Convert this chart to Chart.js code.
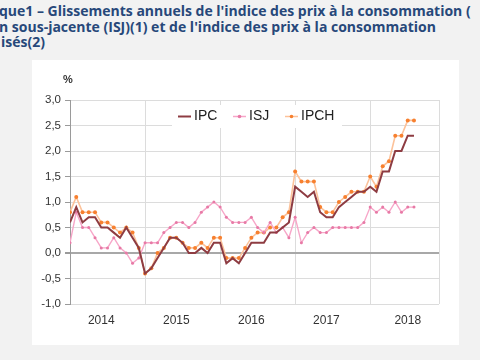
<!DOCTYPE html>
<html><head><meta charset="utf-8">
<script src="https://cdn.jsdelivr.net/npm/chart.js@4/dist/chart.umd.min.js"></script>
<style>
html,body{margin:0;padding:0;width:480px;height:360px;overflow:hidden;background:#f2f2f2;}
#card{position:absolute;left:32px;top:60px;width:427px;height:285px;background:#fff;}
.t{position:absolute;left:0;white-space:nowrap;font-family:"Open Sans",sans-serif;font-weight:700;font-size:14px;color:#27487a;line-height:15px;}
canvas{position:absolute;left:0;top:0;}
</style></head>
<body>
<div id="card"></div>
<div class="t" style="top:3px;left:-1px">que1 – Glissements annuels de l'indice des prix à la consommation (</div>
<div class="t" style="top:19px;left:-1px">n sous-jacente (ISJ)(1) et de l'indice des prix à la consommation</div>
<div class="t" style="top:34px;left:1px">isés(2)</div>
<canvas id="c" width="480" height="360"></canvas>
<script>
const years = ["2014","2015","2016","2017","2018"];
const yearLabelPos = [5,17,29,41,54];
const yearBounds = [12,24,36,48,59];
const seriesNames = ["IPC","ISJ","IPCH"];
const ipc = [0.6,0.9,0.6,0.7,0.7,0.5,0.5,0.4,0.3,0.5,0.3,0.1,
  -0.4,-0.3,-0.1,0.1,0.3,0.3,0.2,0.0,0.0,0.1,0.0,0.2,
  0.2,-0.2,-0.1,-0.2,0.0,0.2,0.2,0.2,0.4,0.4,0.5,0.6,
  1.3,1.2,1.1,1.2,0.8,0.7,0.7,0.9,1.0,1.1,1.2,1.2,
  1.3,1.2,1.6,1.6,2.0,2.0,2.3,2.3];
const isj = [0.2,0.8,0.5,0.5,0.3,0.1,0.1,0.3,0.1,0.0,-0.2,-0.1,
  0.2,0.2,0.2,0.4,0.5,0.6,0.6,0.5,0.6,0.8,0.9,1.0,
  0.9,0.7,0.6,0.6,0.6,0.7,0.5,0.4,0.6,0.4,0.5,0.3,
  0.7,0.2,0.4,0.5,0.4,0.4,0.5,0.5,0.5,0.5,0.5,0.6,
  0.9,0.8,0.9,0.8,1.0,0.8,0.9,0.9];
const ipch = [0.8,1.1,0.8,0.8,0.8,0.6,0.6,0.5,0.4,0.5,0.4,0.1,
  -0.4,-0.3,0.0,0.1,0.3,0.3,0.2,0.1,0.1,0.2,0.1,0.3,
  0.3,-0.1,-0.1,-0.1,0.1,0.3,0.4,0.4,0.5,0.5,0.7,0.8,
  1.6,1.4,1.4,1.4,0.9,0.8,0.8,1.0,1.1,1.2,1.2,1.2,
  1.5,1.3,1.7,1.8,2.3,2.3,2.6,2.6];

const toXY = arr => arr.map((v,i)=>({x:i,y:v}));
const colors = {ipc:'#8e3c42', isjLine:'#f7a6c8', isjPt:'#e77aa6', ipchLine:'#fcc29a', ipchPt:'#f7802f'};

const legendPlugin = {
  id:'customLegend',
  beforeDatasetsDraw(chart){
    const ctx = chart.ctx;
    ctx.save();
    ctx.fillStyle = '#fff';
    ctx.fillRect(172,105,170,23);
    ctx.font = '14px "Liberation Sans", Arial, sans-serif';
    ctx.textBaseline = 'middle';
    const y = 116.5;
    const items = [
      {x:178, line:colors.ipc, pt:null, w:2, text:seriesNames[0]},
      {x:233, line:colors.isjLine, pt:colors.isjPt, w:1.5, text:seriesNames[1]},
      {x:285, line:colors.ipchLine, pt:colors.ipchPt, w:1.5, text:seriesNames[2]}
    ];
    items.forEach(it=>{
      ctx.strokeStyle = it.line; ctx.lineWidth = it.w;
      ctx.beginPath(); ctx.moveTo(it.x,y); ctx.lineTo(it.x+13,y); ctx.stroke();
      if(it.pt){ ctx.fillStyle = it.pt; ctx.beginPath(); ctx.arc(it.x+6.5,y,1.8,0,Math.PI*2); ctx.fill(); }
      ctx.fillStyle = '#222';
      ctx.fillText(it.text, it.x+16, y);
    });
    ctx.font = 'bold 11px "Liberation Sans", Arial, sans-serif';
    ctx.fillStyle = '#333';
    ctx.textAlign = 'center';
    ctx.fillText('%', 68, 80);
    ctx.restore();
  }
};

new Chart(document.getElementById('c'), {
  type:'line',
  data:{datasets:[
    {label:seriesNames[2], data:toXY(ipch), borderColor:colors.ipchLine, backgroundColor:colors.ipchPt,
     pointBackgroundColor:colors.ipchPt, pointBorderWidth:0, pointRadius:2, borderWidth:1.6, order:3},
    {label:seriesNames[1], data:toXY(isj), borderColor:colors.isjLine, backgroundColor:colors.isjPt,
     pointBackgroundColor:colors.isjPt, pointBorderWidth:0, pointRadius:1.5, borderWidth:1.4, order:2},
    {label:seriesNames[0], data:toXY(ipc), borderColor:colors.ipc, backgroundColor:colors.ipc,
     pointRadius:0, borderWidth:2, order:1}
  ]},
  options:{
    responsive:false, devicePixelRatio:1, animation:false,
    layout:{padding:{left:0,top:100,right:41,bottom:0}},
    plugins:{legend:{display:false}, tooltip:{enabled:false}},
    scales:{
      x:{type:'linear', min:0, max:59,
        afterBuildTicks(s){
          const vals = [0].concat(yearLabelPos, yearBounds).sort((a,b)=>a-b);
          s.ticks = vals.map(v=>({value:v}));
        },
        afterFit(s){ s.height = 56; },
        border:{display:false},
        grid:{drawTicks:false,
          color:c=> yearBounds.includes(c.tick && c.tick.value) ? '#dcdcdc' : 'rgba(0,0,0,0)', lineWidth:1},
        ticks:{padding:9, autoSkip:false, maxRotation:0, color:'#333',
          font:{family:'"Liberation Sans", Arial, sans-serif', size:12},
          callback:(v)=>{ const k = yearLabelPos.indexOf(v); return k>=0 ? years[k] : ''; }}
      },
      y:{min:-1, max:3,
        afterFit(s){ s.width = 70; },
        afterBuildTicks(s){ const t=[]; for(let v=-1; v<=3.001; v+=0.5) t.push({value:Math.round(v*10)/10}); s.ticks=t; },
        border:{color:'#9a9a9a', width:1},
        grid:{tickLength:5, tickColor:'#9a9a9a',
          color:c=> (c.tick && c.tick.value===0) ? '#a8a8a8' : '#dcdcdc',
          lineWidth:c=> (c.tick && c.tick.value===0) ? 2 : 1},
        ticks:{padding:4, color:'#333', font:{family:'"Liberation Sans", Arial, sans-serif', size:11.5},
          callback:v=> v.toFixed(1).replace('.',',')}
      }
    }
  },
  plugins:[legendPlugin]
});
</script>
</body></html>
